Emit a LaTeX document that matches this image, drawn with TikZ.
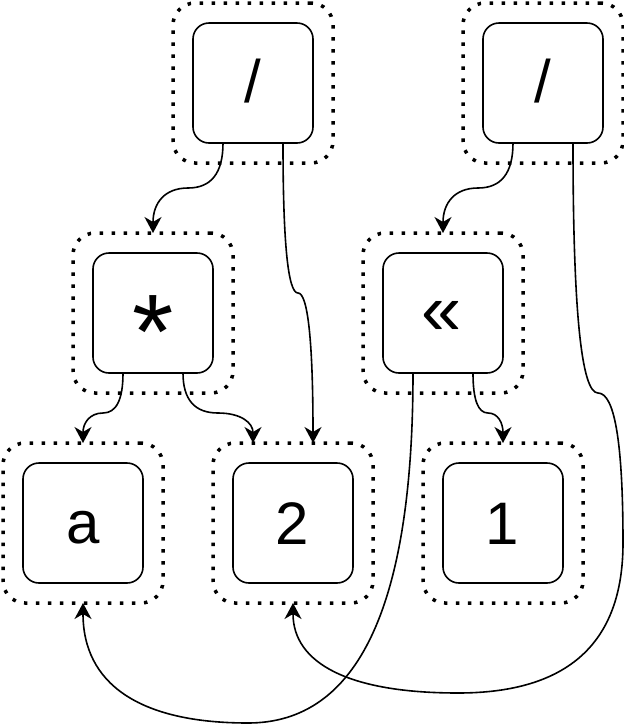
\documentclass[tikz,border=0pt]{standalone}
\usepackage{fontspec}
\setmainfont{Liberation Sans}
\usetikzlibrary{arrows.meta,calc}
\newcommand\glyphat[3]{\smash{\raisebox{-#2}{\makebox[0pt]{\kern#1\relax\kern#1\relax#3}}}}
\tikzset{
  inner/.style={draw, line width=1.6pt, rounded corners=16pt, minimum width=120pt, minimum height=120pt, inner sep=0pt, outer sep=0pt},
  outer/.style={draw, line width=3.5pt, dash pattern=on 3.5pt off 8.5pt, line cap=butt, rounded corners=22pt, minimum width=160pt, minimum height=160pt, inner sep=0pt, outer sep=0pt},
  big/.style={font=\fontsize{60}{72}\selectfont},
  guil/.style={font=\fontsize{72}{86}\selectfont},
  huge/.style={font=\fontsize{106}{128}\selectfont},
  tipstyle/.tip={Stealth[length=16pt,width=17pt,inset=5pt]},
  conn/.style={line width=1.6pt, -tipstyle},
}
\begin{document}
\begin{tikzpicture}[x=1pt,y=-1pt]
\useasboundingbox (0,0) rectangle (624,724);
% outer dotted boxes
\node[outer] (o1) at (253,83) {};
\node[outer] (o2) at (543,83) {};
\node[outer] (o3) at (153,313) {};
\node[outer] (o4) at (443,313) {};
\node[outer] (o5) at (83,523) {};
\node[outer] (o6) at (293,523) {};
\node[outer] (o7) at (503,523) {};
% inner boxes
\node[inner,big] (n1) at (253,83) {\glyphat{0pt}{19pt}{/}};
\node[inner,big] (n2) at (543,83) {\glyphat{0pt}{19pt}{/}};
\node[inner,huge] (n3) at (153,313) {\glyphat{0pt}{55pt}{*}};
\node[inner,guil] (n4) at (443,313) {\glyphat{-1pt}{21pt}{«}};
\node[inner,big] (n5) at (83,523) {\glyphat{0pt}{20.5pt}{a}};
\node[inner,big] (n6) at (293,523) {\glyphat{-1pt}{21pt}{2}};
\node[inner,big] (n7) at (503,523) {\glyphat{-1pt}{21pt}{1}};
% connectors
\draw[conn] ($(n1.south)+(-30,0)$) .. controls (223,173) and (211.3,188) .. (188,188)
  .. controls (164.7,188) and (153,203) .. (o3.north);
\draw[conn] ($(n1.south)+(30,0)$) .. controls (283,243) and (288,293) .. (298,293)
  .. controls (308,293) and (313,343) .. ($(o6.north)+(20,0)$);
\draw[conn] ($(n3.south)+(-30,0)$) .. controls (123,399.7) and (116.3,413) .. (103,413)
  .. controls (89.7,413) and (83,423) .. (o5.north);
\draw[conn] ($(n3.south)+(30,0)$) .. controls (183,399.7) and (194.7,413) .. (218,413)
  .. controls (241.3,413) and (253,423) .. ($(o6.north)+(-40,0)$);
\draw[conn] ($(n2.south)+(-30,0)$) .. controls (513,173) and (501.3,188) .. (478,188)
  .. controls (454.7,188) and (443,203) .. (o4.north);
\draw[conn] ($(n4.south)+(30,0)$) .. controls (473,399.7) and (478,413) .. (488,413)
  .. controls (498,413) and (503,423) .. (o7.north);
\draw[conn] ($(n2.south)+(30,0)$) .. controls (573,309.7) and (581.3,393) .. (598,393)
  .. controls (614.7,393) and (623,443) .. (623,543)
  .. controls (623,643) and (568,693) .. (458,693)
  .. controls (348,693) and (293,663) .. (o6.south);
\draw[conn] ($(n4.south)+(-30,0)$) .. controls (413,606.3) and (358,723) .. (248,723)
  .. controls (138,723) and (83,683) .. (o5.south);
\end{tikzpicture}
\end{document}
